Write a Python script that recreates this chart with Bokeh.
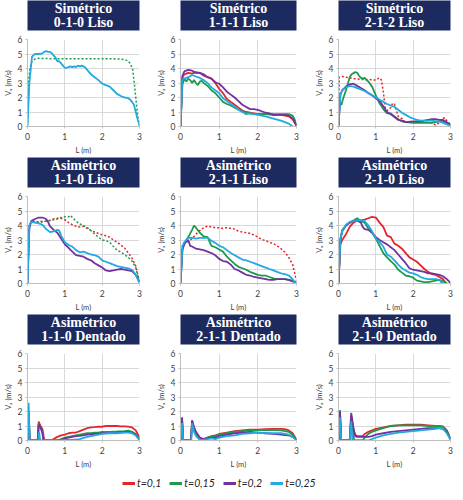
from bokeh.plotting import figure
from bokeh.layouts import column, row
from bokeh.models import FixedTicker, Legend, LegendItem, Range1d
from bokeh.embed import file_html
from bokeh.resources import INLINE
from bokeh.core.properties import value

# ---------------- data ----------------
series_labels = ["t=0,1", "t=0,15", "t=0,2", "t=0,25"]
series_colors = ["#e3262e", "#1b9b4b", "#7232a0", "#22a9e1"]
x_ticks = [0, 1, 2, 3]
y_ticks = [0, 1, 2, 3, 4, 5, 6]
x_label = "L (m)"
y_label = "Vₓ (m/s)"

panel_titles = [
    ("Simétrico", "0-1-0 Liso"), ("Simétrico", "1-1-1 Liso"), ("Simétrico", "2-1-2 Liso"),
    ("Asimétrico", "1-1-0 Liso"), ("Asimétrico", "2-1-1 Liso"), ("Asimétrico", "2-1-0 Liso"),
    ("Asimétrico", "1-1-0 Dentado"), ("Asimétrico", "2-1-1 Dentado"), ("Asimétrico", "2-1-0 Dentado"),
]

# Panel 1: Simétrico 0-1-0 Liso
s010_t025 = [(0,0),(0.05,3.0),(0.12,4.8),(0.15,4.9),(0.2,5.0),(0.3,5.0),(0.4,5.05),(0.45,5.15),(0.5,5.2),(0.55,5.15),
             (0.6,5.15),(0.65,5.05),(0.7,4.9),(0.75,4.75),(0.8,4.5),(0.85,4.5),(0.9,4.35),(0.95,4.2),(1.0,4.05),(1.05,4.05),
             (1.1,4.1),(1.15,4.15),(1.2,4.1),(1.25,4.15),(1.3,4.1),(1.35,4.2),(1.4,4.15),(1.45,4.2),(1.5,4.15),(1.55,4.05),
             (1.6,3.9),(1.7,3.6),(1.8,3.4),(1.9,3.2),(2.0,2.95),(2.1,2.85),(2.2,2.75),(2.3,2.5),(2.4,2.25),(2.5,2.1),
             (2.6,2.0),(2.7,1.95),(2.75,1.85),(2.8,1.7),(2.85,1.5),(2.9,1.0),(2.95,0.5),(3.0,0.1)]
s010_t015_dot = [(0,0),(0.03,3.2),(0.07,4.1),(0.12,4.5),(0.2,4.65),(0.3,4.7),(0.6,4.68),(1.0,4.68),(1.5,4.68),(2.0,4.68),
                 (2.4,4.66),(2.6,4.62),(2.7,4.52),(2.76,4.3),(2.82,3.9),(2.86,3.0),(2.9,2.0),(2.94,1.0),(3.0,0)]

# Panel 2: Simétrico 1-1-1 Liso
s111_t01 = [(0,0),(0.05,3.4),(0.1,3.6),(0.2,3.7),(0.3,3.65),(0.4,3.75),(0.5,3.7),(0.6,3.5),(0.7,3.4),(0.8,3.3),(0.9,3.0),
            (1.0,2.6),(1.1,2.3),(1.2,1.9),(1.3,1.7),(1.4,1.5),(1.5,1.3),(1.6,1.1),(1.7,1.0),(1.8,0.95),(1.9,0.9),(2.0,0.85),
            (2.2,0.85),(2.4,0.8),(2.6,0.8),(2.7,0.75),(2.8,0.7),(2.9,0.5),(2.95,0.3),(3.0,0.05)]
s111_t015 = [(0,0),(0.05,2.9),(0.1,3.3),(0.15,3.1),(0.2,3.3),(0.25,3.2),(0.3,3.0),(0.35,3.2),(0.4,3.0),(0.45,2.85),(0.5,3.1),
             (0.55,3.15),(0.6,3.0),(0.7,2.8),(0.8,2.5),(0.9,2.3),(1.0,2.0),(1.1,1.7),(1.2,1.55),(1.3,1.45),(1.4,1.3),(1.5,1.15),
             (1.6,1.05),(1.7,0.95),(1.8,0.9),(1.9,0.85),(2.0,0.85),(2.4,0.85),(2.8,0.85),(2.9,0.75),(2.95,0.5),(3.0,0.1)]
s111_t02 = [(0,0),(0.05,3.5),(0.1,3.8),(0.2,3.9),(0.3,3.85),(0.4,3.7),(0.5,3.7),(0.6,3.6),(0.7,3.4),(0.8,3.3),(0.9,3.05),
            (1.0,2.95),(1.1,2.7),(1.2,2.4),(1.3,2.2),(1.4,2.0),(1.5,1.75),(1.6,1.5),(1.7,1.35),(1.8,1.2),(1.9,1.2),(2.0,1.15),
            (2.1,1.05),(2.2,0.95),(2.3,0.9),(2.4,0.8),(2.6,0.8),(2.7,0.8),(2.8,0.75),(2.9,0.55),(3.0,0.05)]
s111_t025 = [(0,0),(0.05,3.2),(0.1,3.3),(0.2,3.4),(0.3,3.55),(0.4,3.45),(0.5,3.35),(0.6,3.2),(0.7,3.0),(0.8,2.7),(0.9,2.5),
             (1.0,2.3),(1.1,1.95),(1.2,1.75),(1.3,1.55),(1.4,1.35),(1.5,1.15),(1.6,1.0),(1.7,0.85),(1.8,0.9),(1.9,0.85),(2.0,0.8),
             (2.2,0.7),(2.4,0.55),(2.6,0.4),(2.7,0.3),(2.8,0.2),(2.85,0.1),(2.9,0.0)]

# Panel 3: Simétrico 2-1-2 Liso
s212_t01_dot = [(0,0),(0.02,3.4),(0.1,3.45),(0.2,3.4),(0.4,3.3),(0.6,3.25),(0.8,3.25),(1.0,3.2),(1.1,3.35),(1.15,3.2),
                (1.2,2.4),(1.25,1.3),(1.3,1.1),(1.4,1.3),(1.45,1.6),(1.5,1.55),(1.55,1.1),(1.6,0.7),(1.7,0.55),(1.8,0.25),
                (1.9,0.35),(2.0,0.3),(2.2,0.3),(2.4,0.3),(2.5,0.25),(2.6,0.1),(2.7,0.25),(2.8,0.55),(2.85,0.6),(2.9,0.4),(3.0,0.15)]
s212_t015 = [(0,0),(0.03,1.6),(0.08,1.5),(0.12,1.9),(0.2,2.5),(0.3,3.4),(0.35,3.6),(0.45,3.75),(0.5,3.7),(0.55,3.5),(0.6,3.35),
             (0.65,3.3),(0.7,3.35),(0.75,3.2),(0.8,3.1),(0.9,2.75),(1.0,2.15),(1.1,1.6),(1.2,1.2),(1.3,0.9),(1.4,0.9),(1.5,0.7),
             (1.6,0.5),(1.7,0.35),(1.8,0.3),(2.0,0.25),(2.5,0.25),(2.6,0.3),(2.7,0.35),(2.8,0.35),(2.9,0.25),(3.0,0.1)]
s212_t02 = [(0,0),(0.05,2.2),(0.1,2.5),(0.2,2.75),(0.3,2.9),(0.4,2.95),(0.5,2.8),(0.6,2.65),(0.7,2.5),(0.8,2.3),(0.9,2.15),
            (1.0,1.95),(1.1,1.75),(1.2,1.4),(1.3,1.0),(1.4,0.85),(1.5,0.65),(1.6,0.45),(1.7,0.4),(1.8,0.3),(2.0,0.35),(2.2,0.35),
            (2.4,0.45),(2.5,0.5),(2.6,0.5),(2.7,0.45),(2.8,0.45),(2.9,0.3),(3.0,0.1)]
s212_t025 = [(0,0),(0.05,2.2),(0.1,2.5),(0.2,2.7),(0.3,2.8),(0.4,2.75),(0.5,2.65),(0.6,2.55),(0.7,2.45),(0.8,2.3),(0.9,2.15),
             (1.0,2.0),(1.1,1.85),(1.2,1.7),(1.3,1.55),(1.4,1.45),(1.5,1.35),(1.6,1.15),(1.7,0.95),(1.8,0.8),(1.9,0.65),(2.0,0.55),
             (2.1,0.45),(2.2,0.4),(2.5,0.4),(2.6,0.35),(2.7,0.35),(2.8,0.25),(2.9,0.15),(3.0,0.05)]

# Panel 4: Asimétrico 1-1-0 Liso
a110_t01_dot = [(0,0),(0.05,4.0),(0.1,4.25),(0.2,4.25),(0.3,4.2),(0.4,4.25),(0.5,4.3),(0.6,4.35),(0.7,4.45),(0.8,4.5),(0.9,4.5),
                (1.0,4.4),(1.1,4.2),(1.2,4.05),(1.3,3.95),(1.4,3.9),(1.5,3.95),(1.6,3.8),(1.7,3.65),(1.8,3.55),(1.9,3.45),(2.0,3.35),
                (2.1,3.3),(2.2,3.2),(2.3,3.0),(2.4,2.85),(2.5,2.65),(2.6,2.45),(2.7,2.1),(2.8,1.75),(2.9,1.2),(3.0,0.1)]
a110_t015_dot = [(0,0),(0.05,4.0),(0.1,4.3),(0.2,4.3),(0.3,4.25),(0.4,4.3),(0.5,4.3),(0.6,4.35),(0.7,4.4),(0.8,4.45),(0.9,4.55),
                 (1.0,4.6),(1.1,4.6),(1.15,4.7),(1.2,4.55),(1.3,4.3),(1.4,4.1),(1.5,4.0),(1.6,3.85),(1.7,3.65),(1.8,3.4),(1.9,3.2),
                 (2.0,3.0),(2.1,2.95),(2.2,2.85),(2.3,2.55),(2.4,2.3),(2.5,2.15),(2.6,2.0),(2.7,1.8),(2.8,1.55),(2.9,1.1),(3.0,0.1)]
a110_t02 = [(0,0),(0.05,3.8),(0.1,4.3),(0.2,4.45),(0.3,4.55),(0.4,4.55),(0.5,4.45),(0.55,4.25),(0.6,3.95),(0.7,3.7),(0.8,3.5),
            (0.9,3.1),(1.0,2.7),(1.1,2.45),(1.2,2.2),(1.3,1.95),(1.4,1.9),(1.5,1.85),(1.6,1.7),(1.7,1.6),(1.8,1.4),(1.9,1.25),
            (2.0,1.1),(2.1,0.9),(2.2,0.85),(2.3,0.9),(2.4,0.95),(2.5,1.0),(2.6,0.95),(2.7,0.9),(2.8,0.85),(2.9,0.6),(3.0,0.1)]
a110_t025 = [(0,0),(0.05,4.0),(0.1,4.25),(0.2,4.2),(0.3,4.15),(0.4,4.05),(0.5,3.75),(0.6,3.55),(0.7,3.6),(0.8,3.7),(0.85,3.65),
             (0.9,3.3),(1.0,2.85),(1.1,2.65),(1.2,2.55),(1.3,2.3),(1.4,2.15),(1.5,2.2),(1.6,2.1),(1.7,2.0),(1.8,1.95),(1.9,1.85),
             (2.0,1.6),(2.1,1.5),(2.2,1.4),(2.3,1.3),(2.4,1.2),(2.5,1.15),(2.6,1.1),(2.7,1.05),(2.8,0.95),(2.9,0.6),(3.0,0.05)]

# Panel 5: Asimétrico 2-1-1 Liso
a211_t01_dot = [(0,0),(0.05,2.6),(0.1,2.8),(0.2,2.9),(0.3,3.1),(0.4,3.4),(0.5,3.65),(0.6,3.85),(0.7,3.95),(0.8,3.9),(0.9,3.85),
                (1.0,3.85),(1.1,3.8),(1.2,3.85),(1.3,3.8),(1.4,3.75),(1.5,3.6),(1.6,3.55),(1.7,3.5),(1.8,3.45),(1.9,3.35),(2.0,3.2),
                (2.1,3.05),(2.2,2.95),(2.3,2.85),(2.4,2.75),(2.5,2.6),(2.6,2.4),(2.7,2.15),(2.8,1.8),(2.9,1.3),(3.0,0.2)]
a211_t015 = [(0,0),(0.05,2.3),(0.1,2.8),(0.2,3.2),(0.3,3.7),(0.35,4.0),(0.4,3.85),(0.5,3.5),(0.6,3.25),(0.7,3.2),(0.8,2.6),
             (0.9,2.5),(1.0,2.35),(1.1,2.2),(1.2,1.85),(1.3,1.6),(1.4,1.35),(1.5,1.15),(1.6,1.05),(1.7,0.95),(1.8,0.8),(1.9,0.7),
             (2.0,0.6),(2.1,0.55),(2.2,0.55),(2.3,0.45),(2.4,0.35),(2.5,0.3),(2.7,0.3),(2.8,0.25),(2.9,0.2),(3.0,0.05)]
a211_t02 = [(0,0),(0.05,2.4),(0.1,2.7),(0.15,2.9),(0.2,3.0),(0.25,2.6),(0.3,2.55),(0.4,2.4),(0.5,2.35),(0.6,2.3),(0.7,2.2),
            (0.8,2.1),(0.9,1.95),(1.0,1.7),(1.1,1.55),(1.2,1.5),(1.3,1.3),(1.4,1.0),(1.5,0.9),(1.6,0.75),(1.7,0.6),(1.8,0.55),
            (1.9,0.45),(2.0,0.4),(2.1,0.35),(2.2,0.3),(2.3,0.25),(2.4,0.25),(2.5,0.3),(2.7,0.3),(2.8,0.25),(2.9,0.15),(3.0,0.05)]
a211_t025 = [(0,0),(0.05,2.6),(0.1,2.85),(0.2,3.15),(0.3,3.15),(0.4,3.1),(0.5,3.15),(0.6,3.15),(0.7,3.15),(0.8,2.95),(0.9,2.8),
             (1.0,2.6),(1.1,2.5),(1.2,2.3),(1.3,2.1),(1.4,1.95),(1.5,1.8),(1.6,1.65),(1.7,1.6),(1.8,1.5),(1.9,1.4),(2.0,1.3),
             (2.1,1.2),(2.2,1.1),(2.3,1.0),(2.4,0.9),(2.5,0.8),(2.6,0.7),(2.7,0.65),(2.8,0.55),(2.9,0.3),(2.95,0.1),(3.0,0.05)]

# Panel 6: Asimétrico 2-1-0 Liso
a210_t01 = [(0,0),(0.05,2.7),(0.1,3.0),(0.2,3.4),(0.3,3.9),(0.4,4.2),(0.5,4.35),(0.6,4.35),(0.7,4.4),(0.8,4.5),(0.9,4.6),
            (1.0,4.55),(1.1,4.2),(1.2,3.9),(1.3,3.3),(1.4,3.2),(1.5,2.75),(1.6,2.6),(1.7,2.4),(1.8,2.1),(1.9,1.8),(2.0,1.65),
            (2.1,1.5),(2.2,1.25),(2.3,1.0),(2.4,0.8),(2.5,0.65),(2.6,0.6),(2.7,0.45),(2.8,0.3),(2.85,0.1),(2.9,0.0)]
a210_t015 = [(0,0),(0.05,3.0),(0.1,3.7),(0.2,4.0),(0.3,4.2),(0.4,4.35),(0.5,4.5),(0.55,4.4),(0.6,4.3),(0.7,4.2),(0.8,3.8),
             (0.9,3.5),(1.0,3.1),(1.1,2.6),(1.2,2.1),(1.3,1.8),(1.4,1.55),(1.5,1.3),(1.6,0.95),(1.7,0.75),(1.8,0.55),(1.9,0.5),
             (2.0,0.4),(2.1,0.2),(2.2,0.15),(2.3,0.1),(2.4,0.1),(2.5,0.15),(2.6,0.2),(2.7,0.25),(2.8,0.15),(2.9,0.05)]
a210_t02 = [(0,0),(0.05,3.0),(0.1,3.6),(0.2,4.0),(0.3,4.2),(0.4,4.3),(0.5,4.35),(0.6,4.2),(0.65,3.9),(0.7,3.75),(0.8,3.7),
            (0.9,3.5),(1.0,3.2),(1.1,3.0),(1.2,2.85),(1.3,2.7),(1.4,2.5),(1.5,2.3),(1.6,2.0),(1.7,1.7),(1.8,1.4),(1.9,1.05),
            (2.0,0.95),(2.1,0.9),(2.2,0.85),(2.3,0.8),(2.4,0.7),(2.5,0.7),(2.6,0.65),(2.7,0.6),(2.8,0.5),(2.9,0.3),(3.0,0.05)]
a210_t025 = [(0,0),(0.05,3.1),(0.1,3.6),(0.2,4.05),(0.3,4.25),(0.4,4.3),(0.5,4.35),(0.6,4.35),(0.7,4.3),(0.8,4.0),(0.9,3.6),
             (1.0,3.1),(1.1,2.85),(1.2,2.55),(1.3,2.0),(1.4,1.85),(1.5,1.6),(1.6,1.3),(1.7,1.05),(1.8,0.9),(1.9,0.75),(2.0,0.7),
             (2.1,0.6),(2.2,0.45),(2.3,0.35),(2.4,0.3),(2.6,0.3),(2.7,0.25),(2.75,0.1),(2.8,0.0)]

# Panel 7: Asimétrico 1-1-0 Dentado
a110d_t01 = [(0,0),(0.03,1.7),(0.06,0),(0.27,0),(0.3,1.3),(0.35,1.0),(0.4,0.8),(0.45,0),(0.65,0),(0.7,0.1),(0.8,0.25),(0.9,0.35),
             (1.0,0.4),(1.1,0.5),(1.2,0.55),(1.3,0.55),(1.4,0.65),(1.5,0.75),(1.6,0.85),(1.7,0.9),(1.8,0.92),(1.9,0.95),(2.0,0.95),
             (2.1,1.0),(2.4,1.0),(2.5,0.98),(2.6,0.97),(2.7,0.95),(2.8,0.9),(2.9,0.7),(3.0,0.2)]
a110d_t015 = [(0,0),(0.03,1.9),(0.06,0),(0.28,0),(0.3,1.2),(0.35,0.9),(0.4,0.6),(0.43,0),(0.78,0),(0.9,0.1),(1.0,0.2),(1.1,0.25),
              (1.2,0.3),(1.3,0.35),(1.4,0.4),(1.5,0.45),(1.6,0.5),(1.7,0.5),(1.8,0.55),(1.9,0.55),(2.0,0.6),(2.2,0.6),(2.4,0.62),
              (2.6,0.65),(2.7,0.68),(2.8,0.6),(2.9,0.45),(3.0,0.1)]
a110d_t02 = [(0,0),(0.03,2.0),(0.06,0),(0.28,0),(0.3,1.1),(0.35,0.9),(0.4,0.5),(0.43,0),(0.8,0),(0.9,0.05),(1.0,0.15),(1.1,0.2),
             (1.2,0.25),(1.3,0.3),(1.4,0.32),(1.5,0.35),(1.6,0.4),(1.7,0.42),(1.8,0.45),(1.9,0.48),(2.0,0.5),(2.2,0.52),(2.4,0.55),
             (2.6,0.6),(2.7,0.6),(2.8,0.55),(2.9,0.4),(3.0,0.05)]
a110d_t025 = [(0,0),(0.03,2.6),(0.06,0),(0.29,0),(0.31,0.6),(0.34,0),(0.85,0),(1.0,0.05),(1.2,0.05),(1.4,0.1),(1.6,0.25),(1.8,0.35),
              (2.0,0.45),(2.2,0.5),(2.4,0.5),(2.6,0.55),(2.7,0.55),(2.8,0.5),(2.9,0.35),(3.0,0.02)]

# Panel 8: Asimétrico 2-1-1 Dentado
a211d_t01 = [(0,0),(0.04,1.5),(0.07,0),(0.27,0),(0.3,1.35),(0.35,0.9),(0.4,0.5),(0.5,0.15),(0.6,0.1),(0.7,0.2),(0.8,0.3),(0.9,0.35),
             (1.0,0.45),(1.2,0.55),(1.4,0.65),(1.6,0.7),(1.8,0.75),(2.0,0.75),(2.2,0.78),(2.4,0.8),(2.6,0.8),(2.7,0.78),(2.8,0.7),
             (2.9,0.5),(3.0,0.05)]
a211d_t015 = [(0,0),(0.04,1.4),(0.07,0),(0.27,0),(0.3,1.3),(0.35,0.8),(0.4,0.5),(0.5,0.1),(0.6,0.1),(0.7,0.2),(0.8,0.25),(0.9,0.3),
              (1.0,0.4),(1.2,0.5),(1.4,0.6),(1.6,0.65),(1.8,0.7),(2.0,0.72),(2.2,0.73),(2.4,0.72),(2.6,0.7),(2.7,0.65),(2.8,0.6),
              (2.9,0.4),(3.0,0.05)]
a211d_t02 = [(0,0),(0.04,1.6),(0.07,0),(0.27,0),(0.3,1.4),(0.35,0.9),(0.4,0.6),(0.5,0.2),(0.6,0.1),(0.7,0.15),(0.8,0.2),(0.9,0.2),
             (1.0,0.3),(1.2,0.4),(1.4,0.5),(1.6,0.55),(1.8,0.6),(2.0,0.55),(2.2,0.5),(2.4,0.45),(2.6,0.4),(2.7,0.38),(2.8,0.35),
             (2.9,0.25),(3.0,0.05)]
a211d_t025 = [(0,0),(0.04,1.2),(0.07,0),(0.28,0),(0.3,1.2),(0.35,0.6),(0.4,0.3),(0.5,0.05),(0.6,0.05),(0.7,0.1),(0.8,0.15),(0.9,0.1),
              (1.0,0.2),(1.2,0.3),(1.4,0.35),(1.6,0.45),(1.8,0.5),(2.0,0.55),(2.2,0.5),(2.6,0.5),(2.7,0.45),(2.8,0.4),(2.9,0.25),(3.0,0.02)]

# Panel 9: Asimétrico 2-1-0 Dentado
a210d_t01 = [(0,0),(0.04,1.9),(0.07,0),(0.3,0),(0.34,1.7),(0.4,0.7),(0.45,0.4),(0.5,0.3),(0.65,0.3),(0.7,0.45),(0.8,0.6),(0.9,0.7),
             (1.0,0.8),(1.2,0.9),(1.4,1.0),(1.6,1.05),(1.8,1.1),(2.2,1.1),(2.4,1.05),(2.6,1.0),(2.7,1.0),(2.8,0.95),(2.9,0.7),(3.0,0.1)]
a210d_t015 = [(0,0),(0.04,2.1),(0.07,0),(0.3,0),(0.34,1.6),(0.38,0.8),(0.42,0),(0.65,0),(0.7,0.2),(0.8,0.45),(0.9,0.6),(1.0,0.7),
              (1.2,0.85),(1.4,1.0),(1.6,1.05),(2.2,1.05),(2.4,1.0),(2.7,1.0),(2.8,0.95),(2.9,0.7),(3.0,0.1)]
a210d_t02 = [(0,0),(0.04,2.0),(0.07,0),(0.3,0),(0.34,1.9),(0.4,0.9),(0.45,0.3),(0.5,0.25),(0.8,0.25),(0.9,0.3),(1.0,0.4),(1.2,0.5),
             (1.4,0.6),(1.6,0.65),(1.8,0.7),(2.0,0.75),(2.2,0.8),(2.4,0.85),(2.7,0.85),(2.8,0.8),(2.9,0.6),(3.0,0.1)]
a210d_t025 = [(0,0),(0.04,1.6),(0.07,0),(0.3,0),(0.34,1.3),(0.37,0),(0.8,0),(0.85,0.05),(1.0,0.2),(1.2,0.35),(1.4,0.45),(1.6,0.55),
              (1.8,0.6),(2.0,0.65),(2.2,0.7),(2.4,0.75),(2.6,0.8),(2.7,0.85),(2.8,0.8),(2.9,0.5),(3.0,0.05)]

# (series points, series index into labels/colors, dotted?)
panel_series = [
    [(s010_t015_dot, 1, True), (s010_t025, 3, False)],
    [(s111_t01, 0, False), (s111_t015, 1, False), (s111_t02, 2, False), (s111_t025, 3, False)],
    [(s212_t01_dot, 0, True), (s212_t015, 1, False), (s212_t02, 2, False), (s212_t025, 3, False)],
    [(a110_t01_dot, 0, True), (a110_t015_dot, 1, True), (a110_t02, 2, False), (a110_t025, 3, False)],
    [(a211_t01_dot, 0, True), (a211_t015, 1, False), (a211_t02, 2, False), (a211_t025, 3, False)],
    [(a210_t01, 0, False), (a210_t015, 1, False), (a210_t02, 2, False), (a210_t025, 3, False)],
    [(a110d_t01, 0, False), (a110d_t015, 1, False), (a110d_t02, 2, False), (a110d_t025, 3, False)],
    [(a211d_t01, 0, False), (a211d_t015, 1, False), (a211d_t02, 2, False), (a211d_t025, 3, False)],
    [(a210d_t01, 0, False), (a210d_t015, 1, False), (a210d_t02, 2, False), (a210d_t025, 3, False)],
]

# ---------------- layout / style ----------------
NAVY = "#1d2a5f"
TICK_FONT = "Lato"
col_widths = [153, 158, 144]
header_borders = [(2, 9), (3, 11), (3, 1)]
plot_borders = [(19, 14), (22, 15), (19, 5)]


def make_header(lines, w, lb, rb):
    h = figure(width=w, height=34, x_range=(0, 1), y_range=(0, 1),
               toolbar_location=None, output_backend="svg",
               x_axis_location=None, y_axis_location=None,
               min_border_left=lb, min_border_right=rb,
               min_border_top=0, min_border_bottom=4)
    h.grid.visible = False
    h.outline_line_color = None
    h.background_fill_color = NAVY
    h.border_fill_color = "white"
    h.text(x=[0.5, 0.5], y=[0.73, 0.27], text=list(lines),
           text_color="white", text_font=value("Liberation Serif"),
           text_font_style="bold", text_font_size="14px",
           text_align="center", text_baseline="middle")
    return h


def make_plot(series, w, lb, rb):
    p = figure(width=w, height=123, x_range=Range1d(0, 3), y_range=Range1d(0, 6),
               toolbar_location=None, output_backend="svg",
               min_border_left=lb, min_border_right=rb,
               min_border_top=5, min_border_bottom=28)
    p.outline_line_color = None
    p.xaxis.ticker = FixedTicker(ticks=x_ticks)
    p.yaxis.ticker = FixedTicker(ticks=y_ticks)
    p.xgrid.ticker = FixedTicker(ticks=x_ticks)
    p.ygrid.ticker = FixedTicker(ticks=y_ticks)
    p.grid.grid_line_color = "#d9d9d9"
    p.grid.grid_line_width = 1
    for ax in (p.xaxis, p.yaxis):
        ax.axis_line_color = "#bfbfbf"
        ax.major_tick_line_color = "#bfbfbf"
        ax.major_tick_out = 2
        ax.major_tick_in = 0
        ax.minor_tick_line_color = None
        ax.major_label_text_font = TICK_FONT
        ax.major_label_text_font_size = "8.5px"
        ax.major_label_text_color = "#404040"
        ax.axis_label_text_font = TICK_FONT
        ax.axis_label_text_font_size = "7.5px"
        ax.axis_label_text_font_style = "normal"
        ax.axis_label_text_color = "#404040"
    p.xaxis.major_label_standoff = 4
    p.xaxis.axis_label_standoff = 3
    p.yaxis.major_label_standoff = 3
    p.yaxis.axis_label_standoff = 2
    p.xaxis.axis_label = x_label
    p.yaxis.axis_label = y_label
    for pts, si, dotted in series:
        xs = [a for a, b in pts]
        ys = [b for a, b in pts]
        if dotted:
            p.line(xs, ys, line_color=series_colors[si], line_width=1.5, line_dash="2 2")
        else:
            p.line(xs, ys, line_color=series_colors[si], line_width=1.8)
    return p


rows = []
for r in range(3):
    cells = []
    for c in range(3):
        i = r * 3 + c
        h = make_header(panel_titles[i], col_widths[c], *header_borders[c])
        p = make_plot(panel_series[i], col_widths[c], *plot_borders[c])
        cells.append(column(h, p, spacing=0))
    rows.append(row(*cells, spacing=0))

# legend strip (sample lines live outside the visible range; only the legend shows)
leg = figure(width=sum(col_widths), height=18, toolbar_location=None, output_backend="svg",
             x_range=Range1d(0, 1), y_range=Range1d(0, 1),
             x_axis_location=None, y_axis_location=None,
             min_border_left=0, min_border_right=0, min_border_top=0, min_border_bottom=0)
leg.grid.visible = False
leg.outline_line_color = None
items = []
for lab, col in zip(series_labels, series_colors):
    rr = leg.line(x=[5, 6], y=[5, 5], line_color=col, line_width=3)
    items.append(LegendItem(label=lab, renderers=[rr]))
legend = Legend(items=items, orientation="horizontal", location=(122, 0),
                glyph_width=13, glyph_height=10, label_standoff=2, spacing=8,
                padding=0, margin=0, border_line_color=None, background_fill_alpha=0,
                label_text_font=TICK_FONT, label_text_font_style="italic",
                label_text_font_size="10.5px", label_text_color="#262626",
                label_height=12)
leg.add_layout(legend)
rows.append(leg)

layout = column(*rows, spacing=0)

open("out.html", "w").write(file_html(layout, INLINE))
